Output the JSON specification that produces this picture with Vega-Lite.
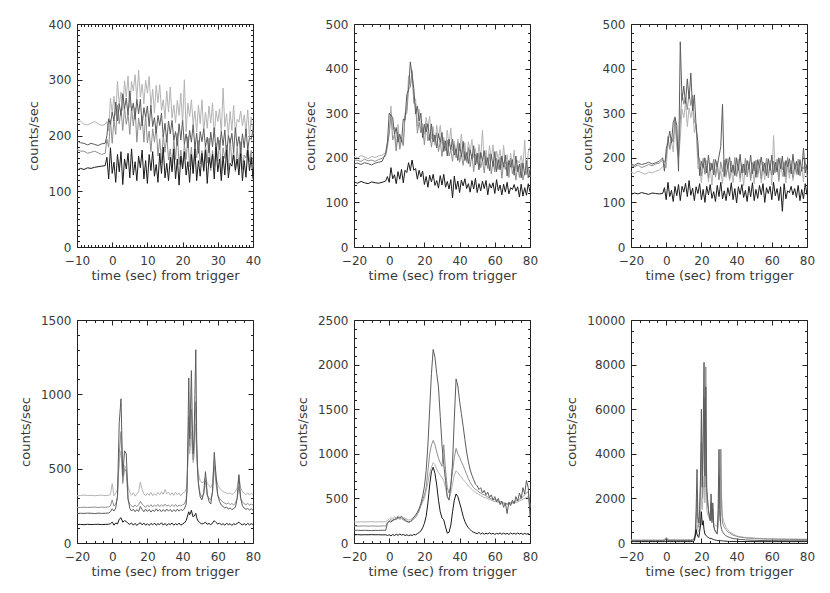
{
"$schema":"https://vega.github.io/schema/vega-lite/v6.json",
"autosize":{"type":"pad"},
"padding":{"left":18,"top":17,"right":5,"bottom":5},
"background":"white",
"bounds":"flush",
"columns":3,
"spacing":{"row":73,"column":101},
"config":{
 "view":{"stroke":"#222","strokeWidth":1},
 "axis":{"domain":false,"grid":false,"labelFlush":false,"labelOverlap":false,"tickColor":"#222","tickWidth":1,"format":"d",
  "labelFont":"DejaVu Sans","labelFontSize":12,"labelColor":"#3a3a3a","titleFont":"DejaVu Sans","titleFontSize":13,"titleFontWeight":"normal","titleColor":"#3a3a3a"},
 "axisX":{"labelPadding":13,"titlePadding":3},
 "axisY":{"labelPadding":11,"titlePadding":8},
 "line":{"strokeWidth":1,"clip":true}
},
"concat":[
{"width":176,"height":223,"data":{"name":"p1"},"resolve":{"axis":{"x":"independent","y":"independent"}},
 "layer":[
 {"mark":{"type":"line","color":"#b3b3b3"},"encoding":{
  "x":{"field":"t","type":"quantitative","scale":{"domain":[-10,40],"nice":false,"zero":false},"axis":{"orient":"bottom","values":[-10,0,10,20,30,40],"tickSize":-5,"title":"time (sec) from trigger"}},
  "y":{"field":"a","type":"quantitative","scale":{"domain":[0,400],"nice":false,"zero":false},"axis":{"orient":"left","values":[0,100,200,300,400],"tickSize":-5,"title":"counts/sec"}}}},
 {"mark":{"type":"line","color":"#8f8f8f"},"encoding":{
  "x":{"field":"t","type":"quantitative","scale":{"domain":[-10,40],"nice":false,"zero":false},"axis":{"orient":"bottom","values":[-9,-8,-7,-6,-5,-4,-3,-2,-1,1,2,3,4,5,6,7,8,9,11,12,13,14,15,16,17,18,19,21,22,23,24,25,26,27,28,29,31,32,33,34,35,36,37,38,39],"tickSize":-2.5,"labels":false,"title":null}},
  "y":{"field":"b","type":"quantitative","scale":{"domain":[0,400],"nice":false,"zero":false},"axis":{"orient":"left","values":[10,20,30,40,50,60,70,80,90,110,120,130,140,150,160,170,180,190,210,220,230,240,250,260,270,280,290,310,320,330,340,350,360,370,380,390],"tickSize":-2.5,"labels":false,"title":null}}}},
 {"mark":{"type":"line","color":"#5c5c5c"},"encoding":{
  "x":{"field":"t","type":"quantitative","scale":{"domain":[-10,40],"nice":false,"zero":false},"axis":{"orient":"top","values":[-10,0,10,20,30,40],"tickSize":-5,"labels":false,"title":null}},
  "y":{"field":"c","type":"quantitative","scale":{"domain":[0,400],"nice":false,"zero":false},"axis":{"orient":"right","values":[0,100,200,300,400],"tickSize":-5,"labels":false,"title":null}}}},
 {"mark":{"type":"line","color":"#1a1a1a"},"encoding":{
  "x":{"field":"t","type":"quantitative","scale":{"domain":[-10,40],"nice":false,"zero":false},"axis":{"orient":"top","values":[-9,-8,-7,-6,-5,-4,-3,-2,-1,1,2,3,4,5,6,7,8,9,11,12,13,14,15,16,17,18,19,21,22,23,24,25,26,27,28,29,31,32,33,34,35,36,37,38,39],"tickSize":-2.5,"labels":false,"title":null}},
  "y":{"field":"d","type":"quantitative","scale":{"domain":[0,400],"nice":false,"zero":false},"axis":{"orient":"right","values":[10,20,30,40,50,60,70,80,90,110,120,130,140,150,160,170,180,190,210,220,230,240,250,260,270,280,290,310,320,330,340,350,360,370,380,390],"tickSize":-2.5,"labels":false,"title":null}}}}
 ]},
{"width":176,"height":223,"data":{"name":"p2"},"resolve":{"axis":{"x":"independent","y":"independent"}},
 "layer":[
 {"mark":{"type":"line","color":"#b3b3b3"},"encoding":{
  "x":{"field":"t","type":"quantitative","scale":{"domain":[-20,80],"nice":false,"zero":false},"axis":{"orient":"bottom","values":[-20,0,20,40,60,80],"tickSize":-5,"title":"time (sec) from trigger"}},
  "y":{"field":"a","type":"quantitative","scale":{"domain":[0,500],"nice":false,"zero":false},"axis":{"orient":"left","values":[0,100,200,300,400,500],"tickSize":-5,"title":"counts/sec"}}}},
 {"mark":{"type":"line","color":"#8f8f8f"},"encoding":{
  "x":{"field":"t","type":"quantitative","scale":{"domain":[-20,80],"nice":false,"zero":false},"axis":{"orient":"bottom","values":[-15,-10,-5,5,10,15,25,30,35,45,50,55,65,70,75],"tickSize":-2.5,"labels":false,"title":null}},
  "y":{"field":"b","type":"quantitative","scale":{"domain":[0,500],"nice":false,"zero":false},"axis":{"orient":"left","values":[20,40,60,80,120,140,160,180,220,240,260,280,320,340,360,380,420,440,460,480],"tickSize":-2.5,"labels":false,"title":null}}}},
 {"mark":{"type":"line","color":"#5c5c5c"},"encoding":{
  "x":{"field":"t","type":"quantitative","scale":{"domain":[-20,80],"nice":false,"zero":false},"axis":{"orient":"top","values":[-20,0,20,40,60,80],"tickSize":-5,"labels":false,"title":null}},
  "y":{"field":"c","type":"quantitative","scale":{"domain":[0,500],"nice":false,"zero":false},"axis":{"orient":"right","values":[0,100,200,300,400,500],"tickSize":-5,"labels":false,"title":null}}}},
 {"mark":{"type":"line","color":"#1a1a1a"},"encoding":{
  "x":{"field":"t","type":"quantitative","scale":{"domain":[-20,80],"nice":false,"zero":false},"axis":{"orient":"top","values":[-15,-10,-5,5,10,15,25,30,35,45,50,55,65,70,75],"tickSize":-2.5,"labels":false,"title":null}},
  "y":{"field":"d","type":"quantitative","scale":{"domain":[0,500],"nice":false,"zero":false},"axis":{"orient":"right","values":[20,40,60,80,120,140,160,180,220,240,260,280,320,340,360,380,420,440,460,480],"tickSize":-2.5,"labels":false,"title":null}}}}
 ]},
{"width":176,"height":223,"data":{"name":"p3"},"resolve":{"axis":{"x":"independent","y":"independent"}},
 "layer":[
 {"mark":{"type":"line","color":"#b3b3b3"},"encoding":{
  "x":{"field":"t","type":"quantitative","scale":{"domain":[-20,80],"nice":false,"zero":false},"axis":{"orient":"bottom","values":[-20,0,20,40,60,80],"tickSize":-5,"title":"time (sec) from trigger"}},
  "y":{"field":"a","type":"quantitative","scale":{"domain":[0,500],"nice":false,"zero":false},"axis":{"orient":"left","values":[0,100,200,300,400,500],"tickSize":-5,"title":"counts/sec"}}}},
 {"mark":{"type":"line","color":"#8f8f8f"},"encoding":{
  "x":{"field":"t","type":"quantitative","scale":{"domain":[-20,80],"nice":false,"zero":false},"axis":{"orient":"bottom","values":[-15,-10,-5,5,10,15,25,30,35,45,50,55,65,70,75],"tickSize":-2.5,"labels":false,"title":null}},
  "y":{"field":"b","type":"quantitative","scale":{"domain":[0,500],"nice":false,"zero":false},"axis":{"orient":"left","values":[20,40,60,80,120,140,160,180,220,240,260,280,320,340,360,380,420,440,460,480],"tickSize":-2.5,"labels":false,"title":null}}}},
 {"mark":{"type":"line","color":"#5c5c5c"},"encoding":{
  "x":{"field":"t","type":"quantitative","scale":{"domain":[-20,80],"nice":false,"zero":false},"axis":{"orient":"top","values":[-20,0,20,40,60,80],"tickSize":-5,"labels":false,"title":null}},
  "y":{"field":"c","type":"quantitative","scale":{"domain":[0,500],"nice":false,"zero":false},"axis":{"orient":"right","values":[0,100,200,300,400,500],"tickSize":-5,"labels":false,"title":null}}}},
 {"mark":{"type":"line","color":"#1a1a1a"},"encoding":{
  "x":{"field":"t","type":"quantitative","scale":{"domain":[-20,80],"nice":false,"zero":false},"axis":{"orient":"top","values":[-15,-10,-5,5,10,15,25,30,35,45,50,55,65,70,75],"tickSize":-2.5,"labels":false,"title":null}},
  "y":{"field":"d","type":"quantitative","scale":{"domain":[0,500],"nice":false,"zero":false},"axis":{"orient":"right","values":[20,40,60,80,120,140,160,180,220,240,260,280,320,340,360,380,420,440,460,480],"tickSize":-2.5,"labels":false,"title":null}}}}
 ]},
{"width":176,"height":223,"data":{"name":"p4"},"resolve":{"axis":{"x":"independent","y":"independent"}},
 "layer":[
 {"mark":{"type":"line","color":"#b3b3b3"},"encoding":{
  "x":{"field":"t","type":"quantitative","scale":{"domain":[-20,80],"nice":false,"zero":false},"axis":{"orient":"bottom","values":[-20,0,20,40,60,80],"tickSize":-5,"title":"time (sec) from trigger"}},
  "y":{"field":"a","type":"quantitative","scale":{"domain":[0,1500],"nice":false,"zero":false},"axis":{"orient":"left","values":[0,500,1000,1500],"tickSize":-5,"title":"counts/sec"}}}},
 {"mark":{"type":"line","color":"#8f8f8f"},"encoding":{
  "x":{"field":"t","type":"quantitative","scale":{"domain":[-20,80],"nice":false,"zero":false},"axis":{"orient":"bottom","values":[-15,-10,-5,5,10,15,25,30,35,45,50,55,65,70,75],"tickSize":-2.5,"labels":false,"title":null}},
  "y":{"field":"b","type":"quantitative","scale":{"domain":[0,1500],"nice":false,"zero":false},"axis":{"orient":"left","values":[100,200,300,400,600,700,800,900,1100,1200,1300,1400],"tickSize":-2.5,"labels":false,"title":null}}}},
 {"mark":{"type":"line","color":"#5c5c5c"},"encoding":{
  "x":{"field":"t","type":"quantitative","scale":{"domain":[-20,80],"nice":false,"zero":false},"axis":{"orient":"top","values":[-20,0,20,40,60,80],"tickSize":-5,"labels":false,"title":null}},
  "y":{"field":"c","type":"quantitative","scale":{"domain":[0,1500],"nice":false,"zero":false},"axis":{"orient":"right","values":[0,500,1000,1500],"tickSize":-5,"labels":false,"title":null}}}},
 {"mark":{"type":"line","color":"#1a1a1a"},"encoding":{
  "x":{"field":"t","type":"quantitative","scale":{"domain":[-20,80],"nice":false,"zero":false},"axis":{"orient":"top","values":[-15,-10,-5,5,10,15,25,30,35,45,50,55,65,70,75],"tickSize":-2.5,"labels":false,"title":null}},
  "y":{"field":"d","type":"quantitative","scale":{"domain":[0,1500],"nice":false,"zero":false},"axis":{"orient":"right","values":[100,200,300,400,600,700,800,900,1100,1200,1300,1400],"tickSize":-2.5,"labels":false,"title":null}}}}
 ]},
{"width":176,"height":223,"data":{"name":"p5"},"resolve":{"axis":{"x":"independent","y":"independent"}},
 "layer":[
 {"mark":{"type":"line","color":"#b3b3b3"},"encoding":{
  "x":{"field":"t","type":"quantitative","scale":{"domain":[-20,80],"nice":false,"zero":false},"axis":{"orient":"bottom","values":[-20,0,20,40,60,80],"tickSize":-5,"title":"time (sec) from trigger"}},
  "y":{"field":"a","type":"quantitative","scale":{"domain":[0,2500],"nice":false,"zero":false},"axis":{"orient":"left","values":[0,500,1000,1500,2000,2500],"tickSize":-5,"title":"counts/sec"}}}},
 {"mark":{"type":"line","color":"#8f8f8f"},"encoding":{
  "x":{"field":"t","type":"quantitative","scale":{"domain":[-20,80],"nice":false,"zero":false},"axis":{"orient":"bottom","values":[-15,-10,-5,5,10,15,25,30,35,45,50,55,65,70,75],"tickSize":-2.5,"labels":false,"title":null}},
  "y":{"field":"b","type":"quantitative","scale":{"domain":[0,2500],"nice":false,"zero":false},"axis":{"orient":"left","values":[100,200,300,400,600,700,800,900,1100,1200,1300,1400,1600,1700,1800,1900,2100,2200,2300,2400],"tickSize":-2.5,"labels":false,"title":null}}}},
 {"mark":{"type":"line","color":"#5c5c5c"},"encoding":{
  "x":{"field":"t","type":"quantitative","scale":{"domain":[-20,80],"nice":false,"zero":false},"axis":{"orient":"top","values":[-20,0,20,40,60,80],"tickSize":-5,"labels":false,"title":null}},
  "y":{"field":"c","type":"quantitative","scale":{"domain":[0,2500],"nice":false,"zero":false},"axis":{"orient":"right","values":[0,500,1000,1500,2000,2500],"tickSize":-5,"labels":false,"title":null}}}},
 {"mark":{"type":"line","color":"#1a1a1a"},"encoding":{
  "x":{"field":"t","type":"quantitative","scale":{"domain":[-20,80],"nice":false,"zero":false},"axis":{"orient":"top","values":[-15,-10,-5,5,10,15,25,30,35,45,50,55,65,70,75],"tickSize":-2.5,"labels":false,"title":null}},
  "y":{"field":"d","type":"quantitative","scale":{"domain":[0,2500],"nice":false,"zero":false},"axis":{"orient":"right","values":[100,200,300,400,600,700,800,900,1100,1200,1300,1400,1600,1700,1800,1900,2100,2200,2300,2400],"tickSize":-2.5,"labels":false,"title":null}}}}
 ]},
{"width":176,"height":223,"data":{"name":"p6"},"resolve":{"axis":{"x":"independent","y":"independent"}},
 "layer":[
 {"mark":{"type":"line","color":"#b3b3b3"},"encoding":{
  "x":{"field":"t","type":"quantitative","scale":{"domain":[-20,80],"nice":false,"zero":false},"axis":{"orient":"bottom","values":[-20,0,20,40,60,80],"tickSize":-5,"title":"time (sec) from trigger"}},
  "y":{"field":"a","type":"quantitative","scale":{"domain":[0,10000],"nice":false,"zero":false},"axis":{"orient":"left","values":[0,2000,4000,6000,8000,10000],"tickSize":-5,"title":"counts/sec"}}}},
 {"mark":{"type":"line","color":"#8f8f8f"},"encoding":{
  "x":{"field":"t","type":"quantitative","scale":{"domain":[-20,80],"nice":false,"zero":false},"axis":{"orient":"bottom","values":[-15,-10,-5,5,10,15,25,30,35,45,50,55,65,70,75],"tickSize":-2.5,"labels":false,"title":null}},
  "y":{"field":"b","type":"quantitative","scale":{"domain":[0,10000],"nice":false,"zero":false},"axis":{"orient":"left","values":[500,1000,1500,2500,3000,3500,4500,5000,5500,6500,7000,7500,8500,9000,9500],"tickSize":-2.5,"labels":false,"title":null}}}},
 {"mark":{"type":"line","color":"#5c5c5c"},"encoding":{
  "x":{"field":"t","type":"quantitative","scale":{"domain":[-20,80],"nice":false,"zero":false},"axis":{"orient":"top","values":[-20,0,20,40,60,80],"tickSize":-5,"labels":false,"title":null}},
  "y":{"field":"c","type":"quantitative","scale":{"domain":[0,10000],"nice":false,"zero":false},"axis":{"orient":"right","values":[0,2000,4000,6000,8000,10000],"tickSize":-5,"labels":false,"title":null}}}},
 {"mark":{"type":"line","color":"#1a1a1a"},"encoding":{
  "x":{"field":"t","type":"quantitative","scale":{"domain":[-20,80],"nice":false,"zero":false},"axis":{"orient":"top","values":[-15,-10,-5,5,10,15,25,30,35,45,50,55,65,70,75],"tickSize":-2.5,"labels":false,"title":null}},
  "y":{"field":"d","type":"quantitative","scale":{"domain":[0,10000],"nice":false,"zero":false},"axis":{"orient":"right","values":[500,1000,1500,2500,3000,3500,4500,5000,5500,6500,7000,7500,8500,9000,9500],"tickSize":-2.5,"labels":false,"title":null}}}}
 ]}
],
"datasets":{
"p1":[
{"t":-10,"a":224,"b":175,"c":190,"d":138},{"t":-9,"a":226,"b":172,"c":187,"d":141},{"t":-8,"a":220,"b":172,"c":186,"d":139},{"t":-7,"a":219,"b":168,"c":183,"d":142},{"t":-6,"a":222,"b":170,"c":186,"d":141},{"t":-5,"a":225,"b":172,"c":184,"d":143},{"t":-4,"a":221,"b":169,"c":182,"d":144},{"t":-3,"a":218,"b":166,"c":185,"d":145},{"t":-2,"a":220,"b":168,"c":186,"d":146},
{"t":-1.5,"a":225,"b":193,"c":200,"d":161},{"t":-1,"a":208,"b":179,"c":230,"d":122},{"t":-0.5,"a":267,"b":228,"c":220,"d":178},{"t":0,"a":240,"b":186,"c":242,"d":132},{"t":0.5,"a":270,"b":228,"c":226,"d":152},{"t":1,"a":236,"b":202,"c":260,"d":116},{"t":1.5,"a":297,"b":255,"c":226,"d":166},{"t":2,"a":255,"b":221,"c":257,"d":135},{"t":2.5,"a":278,"b":247,"c":236,"d":171},{"t":3,"a":245,"b":209,"c":275,"d":112},
{"t":3.5,"a":298,"b":250,"c":248,"d":158},{"t":4,"a":269,"b":220,"c":267,"d":140},{"t":4.5,"a":307,"b":239,"c":237,"d":168},{"t":5,"a":250,"b":202,"c":280,"d":124},{"t":5.5,"a":297,"b":250,"c":244,"d":176},{"t":6,"a":280,"b":217,"c":258,"d":129},{"t":6.5,"a":309,"b":250,"c":229,"d":153},{"t":7,"a":265,"b":188,"c":265,"d":119},{"t":7.5,"a":317,"b":231,"c":239,"d":163},{"t":8,"a":269,"b":210,"c":265,"d":142},
{"t":8.5,"a":292,"b":235,"c":217,"d":174},{"t":9,"a":257,"b":188,"c":250,"d":122},{"t":9.5,"a":299,"b":237,"c":233,"d":155},{"t":10,"a":276,"b":187,"c":253,"d":114},{"t":10.5,"a":306,"b":208,"c":216,"d":166},{"t":11,"a":252,"b":171,"c":254,"d":137},{"t":11.5,"a":283,"b":212,"c":216,"d":171},{"t":12,"a":240,"b":188,"c":232,"d":127},{"t":12.5,"a":290,"b":217,"c":204,"d":148},{"t":13,"a":259,"b":163,"c":236,"d":116},
{"t":13.5,"a":291,"b":194,"c":218,"d":168},{"t":14,"a":245,"b":151,"c":240,"d":132},{"t":14.5,"a":264,"b":201,"c":198,"d":179},{"t":15,"a":230,"b":170,"c":222,"d":124},{"t":15.5,"a":280,"b":202,"c":188,"d":150},{"t":16,"a":242,"b":156,"c":226,"d":119},{"t":16.5,"a":287,"b":176,"c":203,"d":161},{"t":17,"a":231,"b":143,"c":227,"d":135},{"t":17.5,"a":255,"b":194,"c":192,"d":176},{"t":18,"a":223,"b":157,"c":207,"d":122},
{"t":18.5,"a":263,"b":204,"c":182,"d":158},{"t":19,"a":236,"b":148,"c":221,"d":111},{"t":19.5,"a":276,"b":174,"c":192,"d":163},{"t":20,"a":220,"b":142,"c":227,"d":140},{"t":20.5,"a":300,"b":184,"c":184,"d":171},{"t":21,"a":207,"b":157,"c":203,"d":129},{"t":21.5,"a":258,"b":198,"c":178,"d":153},{"t":22,"a":234,"b":144,"c":209,"d":116},{"t":22.5,"a":264,"b":179,"c":188,"d":166},{"t":23,"a":221,"b":132,"c":220,"d":132},
{"t":23.5,"a":244,"b":184,"c":177,"d":176},{"t":24,"a":206,"b":160,"c":204,"d":119},{"t":24.5,"a":255,"b":191,"c":168,"d":155},{"t":25,"a":221,"b":149,"c":207,"d":127},{"t":25.5,"a":264,"b":173,"c":189,"d":168},{"t":26,"a":206,"b":135,"c":212,"d":137},{"t":26.5,"a":242,"b":185,"c":180,"d":174},{"t":27,"a":213,"b":151,"c":197,"d":114},{"t":27.5,"a":253,"b":195,"c":169,"d":161},{"t":28,"a":222,"b":137,"c":206,"d":142},
{"t":28.5,"a":258,"b":173,"c":180,"d":166},{"t":29,"a":198,"b":145,"c":214,"d":122},{"t":29.5,"a":244,"b":186,"c":169,"d":179},{"t":30,"a":225,"b":154,"c":197,"d":135},{"t":30.5,"a":248,"b":191,"c":175,"d":158},{"t":31,"a":204,"b":131,"c":207,"d":119},{"t":31.5,"a":285,"b":178,"c":182,"d":163},{"t":32,"a":216,"b":159,"c":210,"d":129},{"t":32.5,"a":239,"b":183,"c":164,"d":174},{"t":33,"a":200,"b":138,"c":200,"d":124},
{"t":33.5,"a":243,"b":195,"c":186,"d":150},{"t":34,"a":209,"b":151,"c":204,"d":145},{"t":34.5,"a":254,"b":174,"c":170,"d":165},{"t":35,"a":204,"b":135,"c":214,"d":138},{"t":35.5,"a":229,"b":179,"c":180,"d":158},{"t":36,"a":224,"b":144,"c":198,"d":129},{"t":36.5,"a":244,"b":189,"c":169,"d":168},{"t":37,"a":217,"b":139,"c":203,"d":119},{"t":37.5,"a":237,"b":165,"c":178,"d":155},{"t":38,"a":207,"b":160,"c":212,"d":125},
{"t":38.5,"a":246,"b":180,"c":175,"d":174},{"t":39,"a":197,"b":153,"c":196,"d":137},{"t":39.5,"a":233,"b":173,"c":193,"d":161},{"t":40,"a":203,"b":144,"c":210,"d":122}
],
"p2":[
{"t":-20,"a":203,"b":196,"c":186,"d":146},{"t":-18,"a":200,"b":194,"c":188,"d":143},{"t":-16,"a":205,"b":192,"c":185,"d":147},{"t":-14,"a":202,"b":197,"c":189,"d":144},{"t":-12,"a":198,"b":193,"c":187,"d":142},{"t":-10,"a":203,"b":195,"c":184,"d":146},{"t":-8,"a":201,"b":192,"c":188,"d":144},{"t":-6,"a":204,"b":196,"c":190,"d":143},{"t":-4,"a":206,"b":199,"c":192,"d":145},{"t":-2,"a":212,"b":205,"c":210,"d":148},
{"t":-1,"a":235,"b":225,"c":235,"d":158},{"t":0,"a":257,"b":253,"c":300,"d":145},{"t":1,"a":316,"b":298,"c":295,"d":178},{"t":2,"a":263,"b":240,"c":290,"d":153},{"t":3,"a":269,"b":253,"c":253,"d":162},{"t":4,"a":218,"b":215,"c":268,"d":142},{"t":5,"a":275,"b":257,"c":235,"d":169},{"t":6,"a":223,"b":219,"c":253,"d":152},{"t":7,"a":246,"b":242,"c":235,"d":174},{"t":8,"a":229,"b":227,"c":287,"d":144},
{"t":9,"a":299,"b":295,"c":284,"d":172},{"t":10,"a":310,"b":300,"c":342,"d":167},{"t":11,"a":384,"b":355,"c":352,"d":189},{"t":12,"a":360,"b":358,"c":415,"d":171},{"t":13,"a":397,"b":391,"c":385,"d":195},{"t":14,"a":335,"b":322,"c":355,"d":172},{"t":15,"a":332,"b":320,"c":298,"d":176},{"t":16,"a":271,"b":255,"c":316,"d":152},{"t":17,"a":309,"b":280,"c":282,"d":172},{"t":18,"a":256,"b":256,"c":300,"d":157},
{"t":19,"a":277,"b":268,"c":245,"d":170},{"t":20,"a":253,"b":229,"c":275,"d":140},{"t":21,"a":291,"b":278,"c":258,"d":158},{"t":22,"a":268,"b":238,"c":276,"d":134},{"t":23,"a":293,"b":253,"c":239,"d":161},{"t":24,"a":242,"b":224,"c":276,"d":146},{"t":25,"a":270,"b":254,"c":236,"d":163},{"t":26,"a":228,"b":235,"c":251,"d":138},{"t":27,"a":273,"b":256,"c":222,"d":149},{"t":28,"a":245,"b":214,"c":254,"d":132},
{"t":29,"a":273,"b":237,"c":235,"d":160},{"t":30,"a":230,"b":203,"c":257,"d":139},{"t":31,"a":246,"b":240,"c":214,"d":163},{"t":32,"a":216,"b":216,"c":238,"d":134},{"t":33,"a":262,"b":240,"c":204,"d":147},{"t":34,"a":226,"b":204,"c":242,"d":130},{"t":35,"a":267,"b":218,"c":218,"d":151},{"t":36,"a":215,"b":192,"c":242,"d":110},{"t":37,"a":237,"b":230,"c":206,"d":159},{"t":38,"a":206,"b":200,"c":220,"d":129},
{"t":39,"a":242,"b":234,"c":194,"d":148},{"t":40,"a":216,"b":190,"c":232,"d":122},{"t":41,"a":253,"b":208,"c":202,"d":150},{"t":42,"a":201,"b":183,"c":237,"d":137},{"t":43,"a":234,"b":214,"c":194,"d":153},{"t":44,"a":189,"b":192,"c":212,"d":131},{"t":45,"a":236,"b":223,"c":187,"d":142},{"t":46,"a":213,"b":180,"c":218,"d":123},{"t":47,"a":241,"b":207,"c":197,"d":149},{"t":48,"a":201,"b":169,"c":227,"d":130},
{"t":49,"a":221,"b":208,"c":184,"d":154},{"t":50,"a":186,"b":188,"c":210,"d":122},{"t":51,"a":230,"b":211,"c":173,"d":142},{"t":52,"a":198,"b":178,"c":212,"d":126},{"t":53,"a":262,"b":195,"c":193,"d":148},{"t":54,"a":184,"b":166,"c":216,"d":131},{"t":55,"a":217,"b":203,"c":183,"d":149},{"t":56,"a":189,"b":176,"c":200,"d":117},{"t":57,"a":227,"b":209,"c":171,"d":142},{"t":58,"a":197,"b":164,"c":208,"d":132},
{"t":59,"a":229,"b":191,"c":181,"d":144},{"t":60,"a":173,"b":168,"c":214,"d":120},{"t":61,"a":215,"b":199,"c":169,"d":151},{"t":62,"a":198,"b":174,"c":196,"d":126},{"t":63,"a":218,"b":201,"c":173,"d":139},{"t":64,"a":176,"b":154,"c":204,"d":117},{"t":65,"a":228,"b":189,"c":179,"d":141},{"t":66,"a":186,"b":174,"c":206,"d":123},{"t":67,"a":207,"b":191,"c":159,"d":145},{"t":68,"a":170,"b":156,"c":194,"d":119},
{"t":69,"a":210,"b":199,"c":179,"d":133},{"t":70,"a":178,"b":164,"c":196,"d":129},{"t":71,"a":217,"b":181,"c":161,"d":140},{"t":72,"a":171,"b":150,"c":204,"d":125},{"t":73,"a":194,"b":183,"c":169,"d":135},{"t":74,"a":188,"b":156,"c":186,"d":112},{"t":75,"a":205,"b":189,"c":155,"d":141},{"t":76,"a":180,"b":150,"c":188,"d":114},{"t":77,"a":240,"b":169,"c":161,"d":133},{"t":78,"a":162,"b":164,"c":194,"d":116},
{"t":79,"a":213,"b":178,"c":155,"d":142},{"t":80,"a":225,"b":157,"c":174,"d":123}
],
"p3":[
{"t":-20,"a":168,"b":182,"c":186,"d":118},{"t":-18,"a":165,"b":180,"c":183,"d":121},{"t":-16,"a":170,"b":184,"c":188,"d":119},{"t":-14,"a":167,"b":178,"c":185,"d":122},{"t":-12,"a":163,"b":181,"c":187,"d":120},{"t":-10,"a":168,"b":185,"c":190,"d":118},{"t":-8,"a":166,"b":182,"c":186,"d":121},{"t":-6,"a":170,"b":186,"c":189,"d":120},{"t":-4,"a":172,"b":188,"c":192,"d":119},{"t":-2,"a":180,"b":195,"c":200,"d":120},
{"t":-1,"a":185,"b":190,"c":170,"d":133},{"t":0,"a":177,"b":198,"c":220,"d":106},{"t":1,"a":241,"b":248,"c":235,"d":145},{"t":2,"a":218,"b":220,"c":260,"d":113},{"t":3,"a":236,"b":246,"c":233,"d":127},{"t":4,"a":213,"b":235,"c":280,"d":102},{"t":5,"a":280,"b":292,"c":290,"d":136},{"t":6,"a":223,"b":244,"c":273,"d":115},{"t":7,"a":201,"b":202,"c":170,"d":140},{"t":8,"a":244,"b":282,"c":460,"d":104},
{"t":9,"a":309,"b":345,"c":329,"d":136},{"t":10,"a":290,"b":320,"c":361,"d":123},{"t":11,"a":324,"b":335,"c":322,"d":143},{"t":12,"a":270,"b":308,"c":377,"d":113},{"t":13,"a":312,"b":346,"c":332,"d":149},{"t":14,"a":290,"b":317,"c":390,"d":116},{"t":15,"a":312,"b":340,"c":306,"d":132},{"t":16,"a":256,"b":280,"c":341,"d":104},{"t":17,"a":274,"b":275,"c":270,"d":135},{"t":18,"a":176,"b":201,"c":236,"d":120},
{"t":19,"a":177,"b":198,"c":160,"d":142},{"t":20,"a":144,"b":159,"c":192,"d":106},{"t":21,"a":185,"b":199,"c":178,"d":129},{"t":22,"a":166,"b":163,"c":200,"d":100},{"t":23,"a":194,"b":181,"c":166,"d":136},{"t":24,"a":146,"b":155,"c":206,"d":117},{"t":25,"a":178,"b":189,"c":170,"d":140},{"t":26,"a":139,"b":173,"c":188,"d":109},{"t":27,"a":187,"b":197,"c":162,"d":124},{"t":28,"a":161,"b":157,"c":196,"d":102},
{"t":29,"a":192,"b":183,"c":180,"d":138},{"t":30,"a":151,"b":151,"c":204,"d":113},{"t":31,"a":170,"b":191,"c":225,"d":145},{"t":32,"a":142,"b":169,"c":320,"d":108},{"t":33,"a":190,"b":195,"c":158,"d":126},{"t":34,"a":156,"b":161,"c":198,"d":104},{"t":35,"a":199,"b":177,"c":176,"d":133},{"t":36,"a":149,"b":153,"c":202,"d":115},{"t":37,"a":173,"b":193,"c":168,"d":144},{"t":38,"a":144,"b":165,"c":184,"d":106},
{"t":39,"a":182,"b":201,"c":160,"d":131},{"t":40,"a":158,"b":159,"c":200,"d":99},{"t":41,"a":197,"b":179,"c":172,"d":135},{"t":42,"a":146,"b":155,"c":208,"d":118},{"t":43,"a":180,"b":187,"c":166,"d":140},{"t":44,"a":137,"b":167,"c":186,"d":111},{"t":45,"a":185,"b":199,"c":162,"d":127},{"t":46,"a":163,"b":157,"c":194,"d":102},{"t":47,"a":192,"b":185,"c":174,"d":136},{"t":48,"a":154,"b":149,"c":206,"d":113},
{"t":49,"a":175,"b":189,"c":164,"d":144},{"t":50,"a":142,"b":171,"c":192,"d":104},{"t":51,"a":187,"b":195,"c":156,"d":129},{"t":52,"a":156,"b":163,"c":196,"d":109},{"t":53,"a":197,"b":181,"c":178,"d":138},{"t":54,"a":144,"b":153,"c":202,"d":117},{"t":55,"a":178,"b":191,"c":170,"d":142},{"t":56,"a":151,"b":165,"c":188,"d":100},{"t":57,"a":190,"b":199,"c":160,"d":133},{"t":58,"a":161,"b":155,"c":198,"d":120},
{"t":59,"a":194,"b":183,"c":172,"d":136},{"t":60,"a":139,"b":161,"c":206,"d":106},{"t":61,"a":250,"b":193,"c":162,"d":145},{"t":62,"a":166,"b":169,"c":190,"d":115},{"t":63,"a":187,"b":197,"c":168,"d":131},{"t":64,"a":146,"b":151,"c":200,"d":104},{"t":65,"a":199,"b":187,"c":176,"d":135},{"t":66,"a":158,"b":173,"c":204,"d":80},{"t":67,"a":180,"b":191,"c":158,"d":142},{"t":68,"a":144,"b":157,"c":194,"d":108},
{"t":69,"a":185,"b":201,"c":180,"d":126},{"t":70,"a":154,"b":167,"c":198,"d":122},{"t":71,"a":194,"b":185,"c":164,"d":136},{"t":72,"a":149,"b":155,"c":208,"d":117},{"t":73,"a":173,"b":189,"c":174,"d":131},{"t":74,"a":168,"b":163,"c":192,"d":111},{"t":75,"a":186,"b":197,"c":162,"d":138},{"t":76,"a":162,"b":159,"c":196,"d":104},{"t":77,"a":180,"b":179,"c":170,"d":129},{"t":78,"a":146,"b":175,"c":222,"d":108},
{"t":79,"a":198,"b":190,"c":166,"d":142},{"t":80,"a":156,"b":170,"c":186,"d":117}
],
"p4":[
{"t":-20,"a":318,"b":240,"c":198,"d":124},{"t":-18,"a":320,"b":238,"c":200,"d":125},{"t":-16,"a":322,"b":241,"c":199,"d":123},{"t":-14,"a":319,"b":239,"c":201,"d":126},{"t":-12,"a":321,"b":240,"c":200,"d":124},{"t":-10,"a":318,"b":242,"c":198,"d":125},{"t":-8,"a":320,"b":239,"c":201,"d":126},{"t":-6,"a":322,"b":241,"c":199,"d":124},{"t":-4,"a":319,"b":240,"c":200,"d":125},{"t":-2,"a":321,"b":243,"c":202,"d":126},
{"t":-1,"a":325,"b":250,"c":210,"d":130},{"t":0,"a":400,"b":290,"c":230,"d":140},{"t":1,"a":318,"b":248,"c":215,"d":120},{"t":2,"a":335,"b":262,"c":235,"d":135},{"t":3,"a":360,"b":300,"c":320,"d":128},{"t":4,"a":550,"b":600,"c":810,"d":160},{"t":5,"a":620,"b":750,"c":970,"d":170},{"t":6,"a":420,"b":400,"c":450,"d":140},{"t":7,"a":520,"b":500,"c":620,"d":150},{"t":8,"a":500,"b":480,"c":600,"d":145},
{"t":9,"a":380,"b":290,"c":300,"d":132},{"t":10,"a":340,"b":262,"c":232,"d":125},{"t":11,"a":322,"b":250,"c":215,"d":135},{"t":12,"a":338,"b":242,"c":228,"d":120},{"t":13,"a":315,"b":256,"c":210,"d":132},{"t":14,"a":330,"b":244,"c":225,"d":118},{"t":15,"a":345,"b":258,"c":212,"d":130},{"t":16,"a":410,"b":280,"c":245,"d":136},{"t":17,"a":360,"b":262,"c":226,"d":122},{"t":18,"a":330,"b":250,"c":210,"d":134},
{"t":19,"a":318,"b":240,"c":228,"d":120},{"t":20,"a":335,"b":255,"c":212,"d":130},{"t":21,"a":320,"b":244,"c":225,"d":118},{"t":22,"a":340,"b":258,"c":208,"d":132},{"t":23,"a":318,"b":242,"c":222,"d":122},{"t":24,"a":332,"b":256,"c":212,"d":134},{"t":25,"a":320,"b":246,"c":230,"d":120},{"t":26,"a":340,"b":260,"c":214,"d":130},{"t":27,"a":325,"b":244,"c":226,"d":124},{"t":28,"a":345,"b":258,"c":210,"d":136},
{"t":29,"a":328,"b":246,"c":224,"d":120},{"t":30,"a":360,"b":262,"c":212,"d":132},{"t":31,"a":330,"b":248,"c":228,"d":118},{"t":32,"a":342,"b":256,"c":214,"d":130},{"t":33,"a":322,"b":244,"c":226,"d":124},{"t":34,"a":338,"b":258,"c":210,"d":134},{"t":35,"a":320,"b":246,"c":224,"d":120},{"t":36,"a":342,"b":260,"c":212,"d":130},{"t":37,"a":325,"b":244,"c":228,"d":122},{"t":38,"a":336,"b":256,"c":214,"d":134},
{"t":39,"a":318,"b":248,"c":226,"d":120},{"t":40,"a":335,"b":258,"c":218,"d":128},{"t":41,"a":340,"b":262,"c":230,"d":135},{"t":42,"a":360,"b":290,"c":260,"d":150},{"t":42.5,"a":420,"b":360,"c":350,"d":170},{"t":43,"a":550,"b":600,"c":700,"d":190},{"t":43.5,"a":700,"b":850,"c":1110,"d":210},{"t":44,"a":600,"b":650,"c":700,"d":190},{"t":44.5,"a":650,"b":750,"c":900,"d":200},{"t":45,"a":750,"b":900,"c":1160,"d":220},
{"t":45.5,"a":620,"b":700,"c":800,"d":195},{"t":46,"a":540,"b":560,"c":600,"d":175},{"t":46.5,"a":580,"b":640,"c":700,"d":180},{"t":47,"a":700,"b":800,"c":1000,"d":190},{"t":47.5,"a":800,"b":950,"c":1300,"d":200},{"t":48,"a":600,"b":620,"c":700,"d":170},{"t":48.5,"a":520,"b":480,"c":500,"d":155},{"t":49,"a":470,"b":400,"c":400,"d":145},{"t":49.5,"a":440,"b":360,"c":350,"d":140},{"t":50,"a":420,"b":330,"c":310,"d":135},
{"t":51,"a":405,"b":310,"c":290,"d":128},{"t":52,"a":410,"b":330,"c":340,"d":132},{"t":53,"a":440,"b":420,"c":480,"d":140},{"t":54,"a":400,"b":320,"c":330,"d":126},{"t":55,"a":385,"b":300,"c":280,"d":132},{"t":56,"a":372,"b":290,"c":262,"d":122},{"t":57,"a":400,"b":340,"c":350,"d":135},{"t":58,"a":560,"b":520,"c":610,"d":150},{"t":59,"a":450,"b":400,"c":450,"d":138},{"t":60,"a":390,"b":320,"c":320,"d":128},
{"t":61,"a":370,"b":300,"c":280,"d":134},{"t":62,"a":355,"b":285,"c":255,"d":122},{"t":63,"a":345,"b":275,"c":245,"d":130},{"t":64,"a":340,"b":268,"c":235,"d":120},{"t":65,"a":335,"b":262,"c":242,"d":132},{"t":66,"a":330,"b":270,"c":228,"d":124},{"t":67,"a":338,"b":258,"c":236,"d":130},{"t":68,"a":325,"b":266,"c":224,"d":118},{"t":69,"a":335,"b":255,"c":232,"d":130},{"t":70,"a":345,"b":268,"c":240,"d":124},
{"t":71,"a":370,"b":300,"c":300,"d":132},{"t":72,"a":450,"b":380,"c":460,"d":140},{"t":73,"a":370,"b":300,"c":300,"d":128},{"t":74,"a":345,"b":275,"c":250,"d":122},{"t":75,"a":335,"b":265,"c":235,"d":130},{"t":76,"a":325,"b":258,"c":226,"d":120},{"t":77,"a":338,"b":266,"c":232,"d":132},{"t":78,"a":322,"b":255,"c":222,"d":122},{"t":79,"a":335,"b":262,"c":230,"d":130},{"t":80,"a":325,"b":256,"c":220,"d":124}
],
"p5":[
{"t":-20,"a":237,"b":191,"c":141,"d":92},{"t":-18,"a":235,"b":189,"c":143,"d":94},{"t":-16,"a":238,"b":190,"c":140,"d":91},{"t":-14,"a":236,"b":192,"c":142,"d":93},{"t":-12,"a":237,"b":189,"c":141,"d":92},{"t":-10,"a":239,"b":191,"c":139,"d":94},{"t":-8,"a":236,"b":190,"c":142,"d":92},{"t":-6,"a":238,"b":188,"c":141,"d":93},{"t":-4,"a":237,"b":191,"c":143,"d":91},{"t":-2,"a":239,"b":190,"c":142,"d":92},
{"t":-1,"a":250,"b":230,"c":220,"d":85},{"t":0,"a":270,"b":250,"c":245,"d":92},{"t":1,"a":285,"b":262,"c":232,"d":80},{"t":2,"a":268,"b":245,"c":258,"d":95},{"t":3,"a":295,"b":270,"c":262,"d":84},{"t":4,"a":280,"b":258,"c":275,"d":98},{"t":5,"a":305,"b":280,"c":290,"d":86},{"t":6,"a":290,"b":268,"c":282,"d":100},{"t":7,"a":300,"b":275,"c":295,"d":88},{"t":8,"a":285,"b":260,"c":270,"d":96},
{"t":9,"a":278,"b":248,"c":262,"d":84},{"t":10,"a":265,"b":240,"c":245,"d":92},{"t":11,"a":258,"b":230,"c":236,"d":82},{"t":12,"a":262,"b":238,"c":242,"d":90},{"t":13,"a":275,"b":250,"c":262,"d":85},{"t":14,"a":285,"b":270,"c":290,"d":95},{"t":15,"a":300,"b":290,"c":315,"d":92},{"t":16,"a":330,"b":320,"c":345,"d":105},{"t":17,"a":370,"b":360,"c":385,"d":118},{"t":18,"a":420,"b":420,"c":440,"d":135},
{"t":19,"a":460,"b":480,"c":525,"d":170},{"t":20,"a":500,"b":540,"c":630,"d":220},{"t":21,"a":580,"b":620,"c":810,"d":300},{"t":22,"a":680,"b":800,"c":1100,"d":450},{"t":23,"a":780,"b":1000,"c":1500,"d":650},{"t":24,"a":850,"b":1100,"c":1900,"d":800},{"t":25,"a":900,"b":1150,"c":2170,"d":850},{"t":26,"a":880,"b":1100,"c":2080,"d":780},{"t":27,"a":830,"b":1020,"c":1900,"d":650},{"t":28,"a":790,"b":950,"c":1750,"d":480},
{"t":29,"a":760,"b":900,"c":1420,"d":350},{"t":30,"a":730,"b":860,"c":1100,"d":280},{"t":31,"a":700,"b":1100,"c":880,"d":260},{"t":32,"a":620,"b":820,"c":700,"d":180},{"t":33,"a":520,"b":620,"c":520,"d":110},{"t":34,"a":490,"b":560,"c":480,"d":120},{"t":35,"a":560,"b":660,"c":640,"d":200},{"t":36,"a":660,"b":800,"c":900,"d":350},{"t":37,"a":760,"b":960,"c":1400,"d":480},{"t":38,"a":810,"b":1060,"c":1840,"d":550},
{"t":39,"a":790,"b":1000,"c":1760,"d":520},{"t":40,"a":760,"b":960,"c":1590,"d":450},{"t":41,"a":740,"b":910,"c":1450,"d":380},{"t":42,"a":710,"b":870,"c":1310,"d":300},{"t":43,"a":690,"b":820,"c":1160,"d":240},{"t":44,"a":665,"b":770,"c":1020,"d":200},{"t":45,"a":640,"b":720,"c":910,"d":170},{"t":46,"a":620,"b":680,"c":820,"d":150},{"t":47,"a":600,"b":650,"c":760,"d":130},{"t":48,"a":580,"b":620,"c":710,"d":120},
{"t":49,"a":565,"b":600,"c":660,"d":112},{"t":50,"a":555,"b":590,"c":640,"d":105},{"t":51,"a":545,"b":570,"c":600,"d":118},{"t":52,"a":530,"b":560,"c":620,"d":100},{"t":53,"a":520,"b":545,"c":560,"d":112},{"t":54,"a":510,"b":540,"c":590,"d":98},{"t":55,"a":505,"b":530,"c":540,"d":110},{"t":56,"a":495,"b":515,"c":570,"d":102},{"t":57,"a":490,"b":505,"c":510,"d":115},{"t":58,"a":480,"b":495,"c":540,"d":100},
{"t":59,"a":470,"b":490,"c":480,"d":110},{"t":60,"a":465,"b":485,"c":520,"d":96},{"t":61,"a":460,"b":480,"c":460,"d":108},{"t":62,"a":455,"b":470,"c":500,"d":102},{"t":63,"a":450,"b":465,"c":430,"d":112},{"t":64,"a":445,"b":455,"c":470,"d":98},{"t":65,"a":440,"b":450,"c":400,"d":110},{"t":66,"a":435,"b":445,"c":450,"d":100},{"t":67,"a":430,"b":440,"c":330,"d":108},{"t":68,"a":435,"b":445,"c":460,"d":96},
{"t":69,"a":440,"b":450,"c":420,"d":112},{"t":70,"a":445,"b":455,"c":480,"d":100},{"t":71,"a":450,"b":460,"c":440,"d":110},{"t":72,"a":455,"b":470,"c":520,"d":98},{"t":73,"a":460,"b":480,"c":470,"d":112},{"t":74,"a":470,"b":490,"c":560,"d":100},{"t":75,"a":480,"b":500,"c":500,"d":110},{"t":76,"a":490,"b":520,"c":620,"d":96},{"t":77,"a":500,"b":540,"c":550,"d":108},{"t":78,"a":510,"b":560,"c":700,"d":100},
{"t":79,"a":520,"b":580,"c":620,"d":105},{"t":80,"a":400,"b":420,"c":300,"d":90}
],
"p6":[
{"t":-20,"a":140,"b":110,"c":90,"d":60},{"t":-18,"a":142,"b":112,"c":92,"d":62},{"t":-16,"a":139,"b":109,"c":89,"d":59},{"t":-14,"a":141,"b":111,"c":91,"d":61},{"t":-12,"a":140,"b":110,"c":90,"d":60},{"t":-10,"a":143,"b":112,"c":92,"d":62},{"t":-8,"a":139,"b":109,"c":90,"d":60},{"t":-6,"a":141,"b":111,"c":91,"d":61},{"t":-4,"a":140,"b":110,"c":90,"d":60},{"t":-2,"a":142,"b":112,"c":92,"d":61},
{"t":-1,"a":150,"b":120,"c":100,"d":60},{"t":0,"a":260,"b":220,"c":180,"d":80},{"t":1,"a":180,"b":140,"c":120,"d":70},{"t":2,"a":150,"b":120,"c":100,"d":60},{"t":4,"a":155,"b":125,"c":105,"d":62},{"t":6,"a":148,"b":118,"c":98,"d":60},{"t":8,"a":152,"b":122,"c":102,"d":61},{"t":10,"a":150,"b":120,"c":100,"d":60},{"t":12,"a":154,"b":124,"c":104,"d":62},{"t":14,"a":150,"b":120,"c":100,"d":60},
{"t":15,"a":160,"b":130,"c":110,"d":65},{"t":15.5,"a":200,"b":160,"c":150,"d":80},{"t":16,"a":250,"b":220,"c":200,"d":100},{"t":16.5,"a":300,"b":350,"c":400,"d":300},{"t":17,"a":400,"b":800,"c":1500,"d":600},{"t":17.5,"a":800,"b":2000,"c":3300,"d":400},{"t":18,"a":600,"b":900,"c":1200,"d":300},{"t":18.5,"a":500,"b":700,"c":900,"d":250},{"t":19,"a":700,"b":1200,"c":1500,"d":500},{"t":19.5,"a":1200,"b":2500,"c":3000,"d":800},
{"t":20,"a":2000,"b":4500,"c":6000,"d":1400},{"t":20.5,"a":1500,"b":2000,"c":2500,"d":800},{"t":21,"a":2200,"b":4000,"c":5000,"d":1000},{"t":21.5,"a":3000,"b":6500,"c":8100,"d":600},{"t":22,"a":1800,"b":2500,"c":3000,"d":400},{"t":22.5,"a":3500,"b":7900,"c":7000,"d":350},{"t":23,"a":1500,"b":2300,"c":2500,"d":300},{"t":23.5,"a":1300,"b":1800,"c":2000,"d":270},{"t":24,"a":1200,"b":1400,"c":1500,"d":250},{"t":24.5,"a":1100,"b":1250,"c":1200,"d":220},
{"t":25,"a":1000,"b":1100,"c":1000,"d":200},{"t":25.5,"a":1200,"b":1800,"c":2200,"d":210},{"t":26,"a":900,"b":900,"c":1000,"d":180},{"t":26.5,"a":1000,"b":1500,"c":1800,"d":170},{"t":27,"a":850,"b":700,"c":800,"d":150},{"t":27.5,"a":800,"b":620,"c":600,"d":140},{"t":28,"a":780,"b":550,"c":500,"d":130},{"t":28.5,"a":760,"b":500,"c":450,"d":120},{"t":29,"a":750,"b":450,"c":400,"d":110},{"t":29.5,"a":900,"b":800,"c":1500,"d":110},
{"t":30,"a":1500,"b":3000,"c":4200,"d":120},{"t":30.5,"a":1000,"b":1200,"c":1500,"d":110},{"t":31,"a":4200,"b":4200,"c":800,"d":105},{"t":31.5,"a":2000,"b":1500,"c":600,"d":100},{"t":32,"a":1200,"b":900,"c":500,"d":95},{"t":32.5,"a":1000,"b":800,"c":450,"d":90},{"t":33,"a":900,"b":700,"c":400,"d":88},{"t":34,"a":700,"b":600,"c":320,"d":80},{"t":35,"a":600,"b":500,"c":280,"d":75},{"t":36,"a":500,"b":450,"c":250,"d":72},
{"t":38,"a":400,"b":350,"c":200,"d":70},{"t":40,"a":320,"b":300,"c":180,"d":68},{"t":42,"a":280,"b":260,"c":160,"d":66},{"t":45,"a":250,"b":230,"c":140,"d":64},{"t":50,"a":220,"b":200,"c":120,"d":62},{"t":55,"a":200,"b":180,"c":110,"d":60},{"t":60,"a":190,"b":170,"c":105,"d":60},{"t":70,"a":180,"b":160,"c":100,"d":60},{"t":80,"a":175,"b":155,"c":100,"d":60}
]
}
}
